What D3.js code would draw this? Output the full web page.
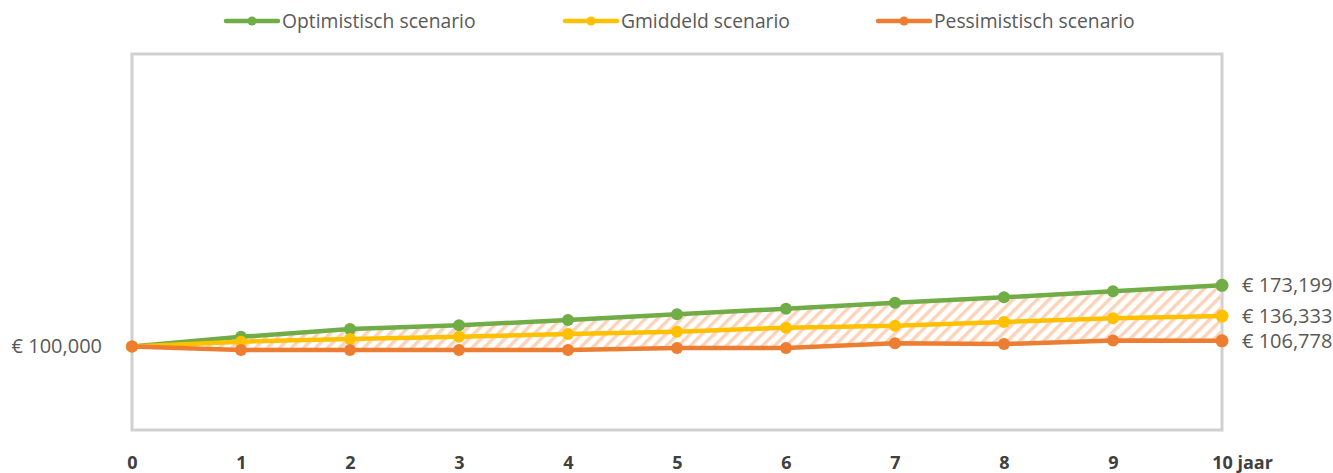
<!DOCTYPE html>
<html>
<head>
<meta charset="utf-8">
<script src="https://cdn.jsdelivr.net/npm/d3@7"></script>
<style>
  html, body { margin: 0; padding: 0; background: #fff; }
  svg { display: block; font-family: "Open Sans", "Noto Sans", sans-serif; }
</style>
</head>
<body>
<svg id="chart" width="1333" height="473"></svg>
<script>
// Years on the horizontal axis
const years = [0, 1, 2, 3, 4, 5, 6, 7, 8, 9, 10];
// Portfolio value per scenario (euro)
const optimistic  = [100000, 111500, 120800, 125300, 131600, 138500, 145200, 152400, 158800, 166000, 173199];
const average     = [100000, 105700, 108900, 111700, 114900, 117600, 122400, 124800, 129300, 133700, 136333];
const pessimistic = [100000,  95700,  95700,  95700,  95700,  98100,  98100, 103800, 102900, 107100, 106778];
// Legend names
const seriesNames = ["Optimistisch scenario", "Gmiddeld scenario", "Pessimistisch scenario"];
const seriesColors = ["#70AD47", "#FFC000", "#ED7D31"];
// Tick labels for the year axis
const yearLabels = ["0", "1", "2", "3", "4", "5", "6", "7", "8", "9", "10 jaar"];
const yDomain = [0, 450000];

const svg = d3.select("#chart");
const plot = { left: 132, right: 1222, top: 54, bottom: 430 };

const x = d3.scaleLinear().domain([0, 10]).range([plot.left, plot.right]);
const y = d3.scaleLinear().domain(yDomain).range([plot.bottom, plot.top]);

const euro = v => "€ " + d3.format(",")(v);

// Diagonal hatch pattern for the band between best and worst case
const defs = svg.append("defs");
defs.append("pattern")
  .attr("id", "hatch")
  .attr("patternUnits", "userSpaceOnUse")
  .attr("width", 8.5).attr("height", 8.5)
  .attr("patternTransform", "rotate(45)")
  .append("rect")
  .attr("x", 0).attr("y", 0)
  .attr("width", 3.4).attr("height", 8.5)
  .attr("fill", "#FAD3B8");

// Plot area frame
svg.append("rect")
  .attr("x", plot.left).attr("y", plot.top)
  .attr("width", plot.right - plot.left)
  .attr("height", plot.bottom - plot.top)
  .attr("fill", "none")
  .attr("stroke", "#D0D0D0")
  .attr("stroke-width", 3);

// Hatched range band
const band = d3.area()
  .x((d, i) => x(years[i]))
  .y0((d, i) => y(pessimistic[i]))
  .y1((d, i) => y(optimistic[i]));
svg.append("path")
  .datum(years)
  .attr("d", band)
  .attr("fill", "url(#hatch)");

// Scenario lines with markers
const series = [optimistic, average, pessimistic];
const line = d3.line().x((d, i) => x(years[i])).y(d => y(d));
series.forEach((vals, si) => {
  const g = svg.append("g");
  g.append("path")
    .datum(vals)
    .attr("d", line)
    .attr("fill", "none")
    .attr("stroke", seriesColors[si])
    .attr("stroke-width", 4.5)
    .attr("stroke-linejoin", "round");
  g.selectAll("circle")
    .data(vals)
    .join("circle")
    .attr("cx", (d, i) => x(years[i]))
    .attr("cy", d => y(d))
    .attr("r", (d, i) => i === vals.length - 1 ? 6.5 : 6)
    .attr("fill", seriesColors[si]);
});

// Starting value label
svg.append("text")
  .attr("x", plot.left - 30)
  .attr("y", y(pessimistic[0]))
  .attr("dy", "0.35em")
  .attr("text-anchor", "end")
  .attr("font-size", 20)
  .attr("fill", "#595959")
  .text(euro(optimistic[0]));

// End value labels
series.forEach(vals => {
  const v = vals[vals.length - 1];
  svg.append("text")
    .attr("x", plot.right + 20)
    .attr("y", y(v))
    .attr("dy", "0.35em")
    .attr("font-size", 20)
    .attr("fill", "#595959")
    .text(euro(v));
});

// Year axis
const xAxis = d3.axisBottom(x)
  .tickValues(years)
  .tickSize(0)
  .tickPadding(0)
  .tickFormat((d, i) => yearLabels[i]);
const axisG = svg.append("g")
  .attr("transform", `translate(0, ${plot.bottom + 26})`)
  .call(xAxis);
axisG.select(".domain").remove();
axisG.selectAll("text")
  .attr("font-family", "'Open Sans', 'Noto Sans', sans-serif")
  .attr("font-size", 18)
  .attr("font-weight", "bold")
  .attr("fill", "#404040");
// keep the number of the last label centred on its tick
axisG.selectAll(".tick text").filter((d, i) => i === years.length - 1)
  .each(function() {
    const t = d3.select(this);
    const probe = axisG.append("text")
      .attr("font-family", "'Open Sans', 'Noto Sans', sans-serif")
      .attr("font-size", 18).attr("font-weight", "bold")
      .text(String(years[years.length - 1]));
    const w = probe.node().getComputedTextLength();
    probe.remove();
    t.attr("text-anchor", "start").attr("x", -w / 2);
  });

// Legend
const legendItems = [
  { x: 226, color: seriesColors[0], name: seriesNames[0] },
  { x: 565, color: seriesColors[1], name: seriesNames[1] },
  { x: 878, color: seriesColors[2], name: seriesNames[2] }
];
const legend = svg.append("g");
legendItems.forEach(it => {
  const g = legend.append("g").attr("transform", `translate(${it.x}, 21)`);
  g.append("line")
    .attr("x1", 0).attr("x2", 52)
    .attr("stroke", it.color).attr("stroke-width", 4.5)
    .attr("stroke-linecap", "round");
  g.append("circle").attr("cx", 26).attr("r", 4.5).attr("fill", it.color);
  g.append("text")
    .attr("x", 56).attr("dy", "0.35em")
    .attr("font-size", 19.3)
    .attr("fill", "#595959")
    .text(it.name);
});
</script>
</body>
</html>
